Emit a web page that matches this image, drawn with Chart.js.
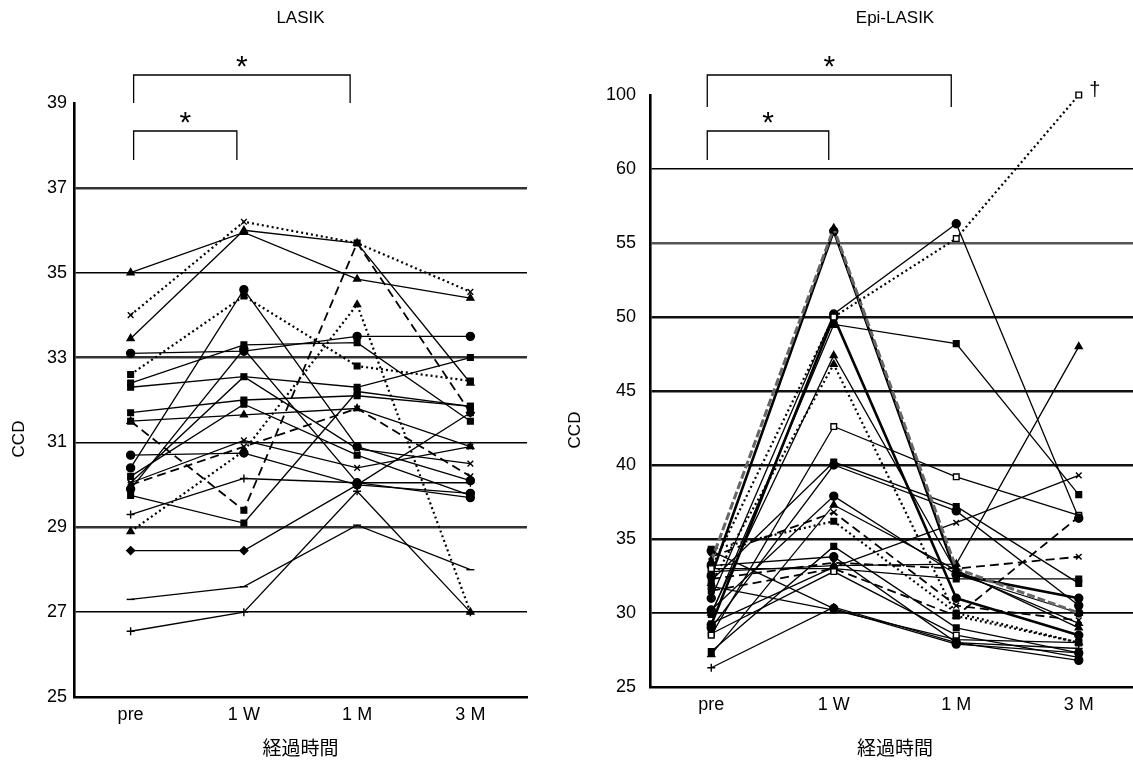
<!DOCTYPE html>
<html><head><meta charset="utf-8">
<script src="https://cdn.jsdelivr.net/npm/chart.js@4.4.1/dist/chart.umd.min.js"></script>
<style>
html,body{margin:0;padding:0;background:#fff;width:1133px;height:767px;overflow:hidden;position:relative}
#w1{position:absolute;left:0;top:0;width:560px;height:767px}
#w2{position:absolute;left:560px;top:0;width:600px;height:767px}
</style></head>
<body>
<div id="w1"><canvas id="c1" width="560" height="767"></canvas></div>
<div id="w2"><canvas id="c2" width="600" height="767"></canvas></div>
<script>
// ---------- categories / ticks ----------
const CATS = ['pre', '1 W', '1 M', '3 M'];
const LASIK_TICKS = [25, 27, 29, 31, 33, 35, 37, 39];
const EPI_TICKS = [25, 30, 35, 40, 45, 50, 55, 60, 100];

// ---------- LASIK series (pre, 1W, 1M, 3M) ----------
const L01 = [35.0, 35.95, 34.85, 34.4];
const L02 = [34.0, 36.2, 35.7, 34.55];
const L03 = [33.45, 36.0, 35.7, 32.4];
const L04 = [32.6, 34.45, 32.8, 32.45];
const L05 = [30.4, 34.6, 30.9, 30.1];
const L06 = [33.1, 33.15, 33.5, 33.5];
const L07 = [32.4, 33.3, 33.35, 31.5];
const L08 = [32.3, 32.55, 32.3, 33.0];
const L09 = [31.5, 29.4, 35.7, 31.7];
const L10 = [28.9, 30.8, 34.25, 27.0];
const L11 = [26.55, 27.0, 29.85, 27.0];
const L12 = [27.3, 27.6, 29.05, 28.0];
const L13 = [28.45, 28.45, 30.0, 31.7];
const L14 = [29.75, 29.1, 32.2, 31.85];
const L15 = [29.3, 30.15, 30.05, 30.05];
const L16 = [30.0, 30.9, 31.8, 30.2];
const L17 = [30.7, 30.75, 30.0, 29.8];
const L18 = [31.7, 32.0, 32.1, 31.85];
const L19 = [31.5, 31.65, 31.8, 30.9];
const L20 = [30.05, 32.55, 30.85, 30.5];
const L21 = [30.2, 31.9, 30.7, 29.75];
const L22 = [29.9, 33.2, 30.05, 29.7];
const L23 = [30.05, 31.05, 30.4, 30.9];
const LASIK_SERIES = [L01,L02,L03,L04,L05,L06,L07,L08,L09,L10,L11,L12,L13,L14,L15,L16,L17,L18,L19,L20,L21,L22,L23];

// ---------- Epi-LASIK series (pre, 1W, 1M, 3M) ----------
const E01 = [33.0, 50.0, 55.3, 100];
const E02 = [31.0, 50.2, 56.3, 36.4];
const E03 = [29.9, 49.5, 48.2, 38.0];
const E04 = [33.5, 56.0, 33.0, 30.0];
const E05 = [32.5, 55.8, 32.6, 31.0];
const E06 = [29.2, 50.0, 31.0, 28.5];
const E07 = [30.0, 47.4, 32.8, 29.3];
const E08 = [32.0, 46.8, 29.8, 28.0];
const E09 = [28.5, 42.6, 39.2, 36.6];
const E10 = [32.2, 40.2, 37.2, 32.0];
const E11 = [29.0, 40.0, 36.9, 30.5];
const E12 = [30.2, 37.9, 32.6, 30.0];
const E13 = [27.2, 37.3, 32.9, 29.0];
const E14 = [33.8, 36.8, 30.5, 29.5];
const E15 = [34.3, 36.2, 30.0, 28.0];
const E16 = [27.4, 34.5, 29.0, 27.3];
const E17 = [33.2, 33.8, 28.0, 26.8];
const E18 = [28.6, 32.8, 28.5, 27.0];
const E19 = [26.3, 30.4, 28.0, 27.6];
const E20 = [33.0, 33.0, 32.3, 32.3];
const E21 = [34.2, 30.3, 27.9, 27.3];
const E22 = [32.8, 33.2, 33.3, 48.0];
const E23 = [31.5, 33.0, 29.8, 36.5];
const E24 = [32.3, 33.4, 33.0, 33.8];
const E25 = [29.3, 33.1, 36.1, 39.3];
const E26 = [31.8, 30.2, 28.2, 28.0];
const EPI_SERIES = [E01,E02,E03,E04,E05,E06,E07,E08,E09,E10,E11,E12,E13,E14,E15,E16,E17,E18,E19,E20,E21,E22,E23,E24,E25,E26];

// ---------- styles (kept apart from data) ----------
const STY = {
  s:  {dash: [], w: 1.3, c: '#000'},
  b:  {dash: [], w: 2.6, c: '#000'},
  d:  {dash: [2, 3], w: 2.2, c: '#000'},
  l:  {dash: [9, 5], w: 1.8, c: '#000'},
  g:  {dash: [8, 3], w: 3.0, c: '#666'}
};
const LASIK_STYLE = ['s','d','s','d','s','s','s','s','l','d','s','s','s','s','s','l','s','s','s','s','s','s','s'];
const LASIK_PT = ['triangle','crossRot','triangle','rect','circle','circle','rect','rect','rect','triangle','cross','line','rectRot','rect','cross','crossRot','circle','rect','triangle','crossRot','rect','circle','crossRot'];
const EPI_STYLE = ['d','s','s','g','b','b','s','d','s','s','s','s','s','l','d','s','s','s','s','s','s','s','l','l','s','s'];
const EPI_PT = ['rect','circle','rect','triangle','circle','circle','triangle','triangle','rect','rect','circle','circle','triangle','crossRot','rect','rect','circle','rect','cross','rect','circle','triangle','rect','crossRot','crossRot','rect'];
const EPI_OPEN = [0,8,17];

const FONT = '"Liberation Sans", Arial, Helvetica, sans-serif';
const CJK = '"Noto Sans CJK JP", "Noto Sans", sans-serif';

// broken axis: values above 60 are drawn on the compressed 60–100 segment
const epiPos = v => v > 60 ? 60 + (v - 60) * 5 / 40 : v;
const epiLabel = v => v === 65 ? '100' : String(v);

function makeDatasets(series, styles, pts, open, map) {
  return series.map((arr, i) => {
    const st = STY[styles[i]];
    const isOpen = open.includes(i);
    return {
      data: arr.map(map),
      borderColor: st.c, borderWidth: st.w, borderDash: st.dash,
      pointStyle: pts[i], pointRadius: 4, pointBorderWidth: 1.4,
      pointBackgroundColor: isOpen ? '#fff' : '#000', pointBorderColor: '#000',
      tension: 0, fill: false, clip: false
    };
  });
}

const annot = {
  id: 'annot',
  afterDraw(chart, args, o) {
    const ctx = chart.ctx, a = chart.chartArea, x = chart.scales.x, y = chart.scales.y;
    const cx = (a.left + a.right) / 2;
    ctx.save();
    ctx.fillStyle = '#000'; ctx.strokeStyle = '#000';
    ctx.textAlign = 'center'; ctx.textBaseline = 'middle';
    ctx.font = '17px ' + FONT;
    ctx.fillText(o.title, cx, o.titleY);
    ctx.font = '19px ' + CJK;
    ctx.fillText('経過時間', cx, o.xTitleY);
    ctx.save();
    ctx.translate(o.yTitleX, o.yTitleY); ctx.rotate(-Math.PI / 2);
    ctx.font = '17px ' + FONT;
    ctx.fillText('CCD', 0, 0);
    ctx.restore();
    ctx.lineWidth = 1.3;
    ctx.textBaseline = 'alphabetic';
    const centered = (t, px, py, font) => {
      ctx.font = font;
      const m = ctx.measureText(t);
      ctx.fillText(t, px, py + (m.actualBoundingBoxAscent - m.actualBoundingBoxDescent) / 2);
    };
    o.brackets.forEach(b => {
      const x1 = x.getPixelForValue(b.from) + b.dx1, x2 = x.getPixelForValue(b.to) + b.dx2;
      const top = a.top + b.top, leg = a.top + b.leg;
      ctx.beginPath();
      ctx.moveTo(x1, leg); ctx.lineTo(x1, top); ctx.lineTo(x2, top); ctx.lineTo(x2, leg);
      ctx.stroke();
      centered('*', (x1 + x2) / 2, top - 14, '30px ' + FONT);
    });
    if (o.dagger) {
      const px = x.getPixelForValue(3) + 16, py = y.getPixelForValue(epiPos(100)) - 6;
      centered('†', px, py, '20px ' + FONT);
    }
    ctx.restore();
  }
};

function build(id, cfg) {
  const yw = cfg.yWidth, xh = 40;
  return new Chart(document.getElementById(id), {
    type: 'line',
    data: {labels: CATS, datasets: cfg.datasets},
    plugins: [annot],
    options: {
      responsive: false, animation: false, devicePixelRatio: 1,
      layout: {padding: cfg.padding},
      plugins: {legend: {display: false}, tooltip: {enabled: false}, title: {display: false},
        annot: cfg.annot},
      scales: {
        x: {
          type: 'category', offset: true,
          grid: {display: false, drawTicks: false},
          border: {display: true, color: '#000', width: 2.6},
          ticks: {color: '#000', font: {family: FONT, size: 18}, padding: 7, maxRotation: 0},
          afterFit: s => { s.height = xh; }
        },
        y: {
          type: 'linear', min: cfg.min, max: cfg.max,
          afterBuildTicks: s => { s.ticks = cfg.ticks.map(v => ({value: v})); },
          grid: {
            drawTicks: false,
            color: c => cfg.gridStyle(c.tick ? c.tick.value : null).c,
            lineWidth: c => cfg.gridStyle(c.tick ? c.tick.value : null).w
          },
          border: {display: true, color: '#000', width: 2.6},
          ticks: {color: '#000', font: {family: FONT, size: 18}, padding: cfg.tickPad,
            callback: cfg.tickCb},
          afterFit: s => { s.width = yw; }
        }
      }
    }
  });
}

// ---------- LASIK ----------
build('c1', {
  datasets: makeDatasets(LASIK_SERIES, LASIK_STYLE, LASIK_PT, [], v => v),
  min: 25, max: 39, ticks: LASIK_TICKS, yWidth: 44, tickPad: 7,
  tickCb: v => String(v),
  padding: {left: 30, right: 33, top: 103, bottom: 30},
  gridStyle: v => {
    if (v === 39 || v === 25 || v === null) return {c: 'rgba(0,0,0,0)', w: 1};
    if (v === 37 || v === 33 || v === 29) return {c: '#333', w: 2.6};
    return {c: '#000', w: 1.5};
  },
  annot: {
    title: 'LASIK', titleY: 18, xTitleY: 748, yTitleX: 19, yTitleY: 439, dagger: false,
    brackets: [
      {from: 0, to: 2, dx1: 3, dx2: -7, top: -28, leg: 0},
      {from: 0, to: 1, dx1: 3, dx2: -7, top: 28, leg: 57}
    ]
  }
});

// ---------- Epi-LASIK ----------
build('c2', {
  datasets: makeDatasets(EPI_SERIES, EPI_STYLE, EPI_PT, EPI_OPEN, epiPos),
  min: 25, max: 65, ticks: EPI_TICKS.map(epiPos), yWidth: 60, tickPad: 14,
  tickCb: epiLabel,
  padding: {left: 30, right: 20, top: 95, bottom: 40},
  gridStyle: v => {
    if (v === 65 || v === 25 || v === null) return {c: 'rgba(0,0,0,0)', w: 1};
    if (v === 60) return {c: '#000', w: 1.5};
    if (v === 30) return {c: '#000', w: 1.8};
    if (v === 55) return {c: '#555', w: 2.6};
    return {c: '#111', w: 2.6};
  },
  annot: {
    title: 'Epi-LASIK', titleY: 18, xTitleY: 748, yTitleX: 15, yTitleY: 430, dagger: true,
    brackets: [
      {from: 0, to: 2, dx1: -4, dx2: -5, top: -20, leg: 12},
      {from: 0, to: 1, dx1: -4, dx2: -5, top: 36, leg: 65}
    ]
  }
});
</script>
</body></html>
